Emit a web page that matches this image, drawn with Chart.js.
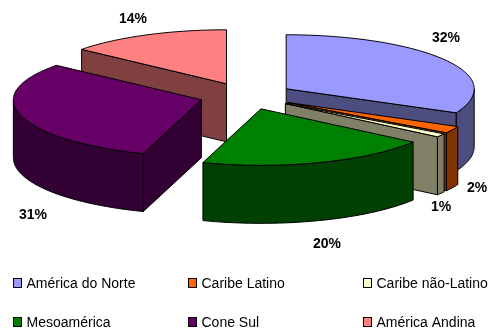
<!DOCTYPE html>
<html>
<head>
<meta charset="utf-8">
<title>Pie</title>
<style>
    body { margin: 0; background: #fff; }
    #myChart { display: block; }
</style>
<script src="https://cdn.jsdelivr.net/npm/chart.js@4"></script>
</head>
<body>
<canvas id="myChart" width="488" height="330"></canvas>
<script>
const categories = ['América do Norte', 'Caribe Latino', 'Caribe não-Latino', 'Mesoamérica', 'Cone Sul', 'América Andina'];
const shares = [32, 2, 1, 20, 31, 14];
const topColors = ['#9999FF', '#FF6600', '#FFFFCC', '#008000', '#660066', '#FF8080'];
const wallColors = ['#4D4D80', '#803300', '#808066', '#004000', '#330033', '#804040'];

// label centres, same order as categories
const labelX = [446, 477, 441, 327, 33, 133];
const labelY = [38, 188, 207, 244, 215, 19];

// legend grid
const legendColumns = [14, 189, 364];
const legendRows = [284, 323];

// near half of the rim is squashed less than the far half (perspective)
const TILT_BACK = 54 / 188;
const TILT_FRONT = 56.5 / 188;
const DEPTH = 58;
const EXPLODE = 47;

function paint(ctx, fill) {
    ctx.fillStyle = fill;
    ctx.fill();
    ctx.stroke();
}

function rimPoint(p, angle) {
    const s = Math.sin(angle);
    return {
        x: p.x + Math.cos(angle) * p.r,
        y: p.y + s * p.r * (s > 0 ? TILT_FRONT : TILT_BACK)
    };
}

function traceRim(ctx, p, from, to, dy) {
    const steps = Math.max(2, Math.ceil(Math.abs(to - from) * 60));
    for (let k = 0; k <= steps; k++) {
        const q = rimPoint(p, from + (to - from) * k / steps);
        ctx.lineTo(q.x, q.y + dy);
    }
}

function drawWall(ctx, p, angle, fill) {
    const e = rimPoint(p, angle);
    ctx.beginPath();
    ctx.moveTo(p.x, p.y);
    ctx.lineTo(e.x, e.y);
    ctx.lineTo(e.x, e.y + DEPTH);
    ctx.lineTo(p.x, p.y + DEPTH);
    ctx.closePath();
    paint(ctx, fill);
}

const pie3d = {
    id: 'pie3d',
    // the flat arcs are laid out by the pie controller, here they get tilted and extruded
    beforeDatasetsDraw(chart) {
        const ctx = chart.ctx;
        const slices = chart.getDatasetMeta(0).data.map((arc, i) => {
            const mid = (arc.startAngle + arc.endAngle) / 2;
            return {
                i: i,
                start: arc.startAngle,
                end: arc.endAngle,
                mid: mid,
                r: arc.outerRadius,
                x: arc.x + Math.cos(mid) * EXPLODE,
                y: arc.y + Math.sin(mid) * EXPLODE * TILT_BACK
            };
        });

        // back to front
        slices.sort((a, b) => Math.abs(b.mid - Math.PI / 2) - Math.abs(a.mid - Math.PI / 2));

        ctx.save();
        ctx.strokeStyle = '#000';
        ctx.lineWidth = 1;
        ctx.lineJoin = 'round';
        slices.forEach(p => {
            // radial walls, only when they face the viewer
            if (Math.sin(p.start - Math.PI / 2) > 0.001) drawWall(ctx, p, p.start, wallColors[p.i]);
            if (Math.sin(p.end + Math.PI / 2) > 0.001) drawWall(ctx, p, p.end, wallColors[p.i]);

            // outer wall
            const lo = Math.max(p.start, 0);
            const hi = Math.min(p.end, Math.PI);
            if (hi > lo) {
                ctx.beginPath();
                traceRim(ctx, p, lo, hi, 0);
                traceRim(ctx, p, hi, lo, DEPTH);
                ctx.closePath();
                paint(ctx, wallColors[p.i]);
            }

            // top
            ctx.beginPath();
            ctx.moveTo(p.x, p.y);
            traceRim(ctx, p, p.start, p.end, 0);
            ctx.closePath();
            paint(ctx, topColors[p.i]);
        });
        ctx.restore();
        return false;
    },
    afterDraw(chart) {
        const ctx = chart.ctx;
        ctx.save();
        ctx.textBaseline = 'middle';

        ctx.font = 'bold 14px "Liberation Sans"';
        ctx.textAlign = 'center';
        ctx.fillStyle = '#000';
        shares.forEach((v, i) => ctx.fillText(v + '%', labelX[i], labelY[i]));

        ctx.font = '14px "Liberation Sans"';
        ctx.textAlign = 'left';
        ctx.lineWidth = 1;
        ctx.strokeStyle = '#000';
        categories.forEach((name, i) => {
            const x = legendColumns[i % 3];
            const y = legendRows[Math.floor(i / 3)];
            ctx.fillStyle = topColors[i];
            ctx.fillRect(x - 0.5, y - 5.5, 8, 9);
            ctx.strokeRect(x - 0.5, y - 5.5, 8, 9);
            ctx.fillStyle = '#000';
            ctx.fillText(name, x + 12.5, y);
        });
        ctx.restore();
    }
};

const data = {
    labels: categories,
    datasets: [{
        data: shares,
        backgroundColor: topColors,
        borderColor: '#000',
        borderWidth: 1
    }]
};

const options = {
    responsive: false,
    animation: false,
    radius: 188,
    layout: {
        padding: { left: 5, bottom: 138 }
    },
    plugins: {
        legend: { display: false },
        tooltip: { enabled: false }
    }
};

const config = {
    type: 'pie',
    data,
    options,
    plugins: [pie3d]
};

const myChart = new Chart(document.getElementById('myChart'), config);
</script>
</body>
</html>
